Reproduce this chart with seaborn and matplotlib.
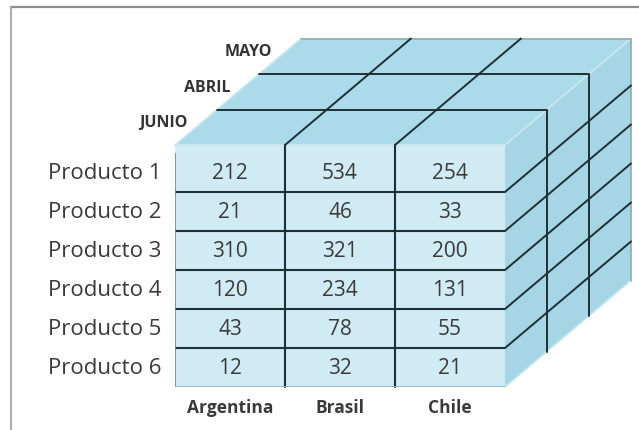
import numpy as np
import pandas as pd
import matplotlib
matplotlib.use("Agg")
import matplotlib.pyplot as plt
from matplotlib.colors import ListedColormap
from matplotlib.patches import Polygon
import seaborn as sns

# ---- data ----
productos = ["Producto 1", "Producto 2", "Producto 3", "Producto 4", "Producto 5", "Producto 6"]
paises = ["Argentina", "Brasil", "Chile"]
meses = ["JUNIO", "ABRIL", "MAYO"]          # front slice to back slice
argentina = [212, 21, 310, 120, 43, 12]
brasil = [534, 46, 321, 234, 78, 32]
chile = [254, 33, 200, 131, 55, 21]

df = pd.DataFrame({"Argentina": argentina, "Brasil": brasil, "Chile": chile},
                  index=productos)[paises]

# ---- style ----
W, H = 639, 431
sns.set_theme(style="white")
plt.rcParams['font.family'] = ['Open Sans', 'DejaVu Sans']

FRONT = "#d0ebf4"
TOP = "#abdbea"
SIDE = "#a6d6e5"
DARK = "#1f2f36"
LIGHT = "#cbe8f1"
EDGE = "#8fa9b1"
TXT = "#3a3a3a"

fig = plt.figure(figsize=(W / 100, H / 100), dpi=100)
fig.patch.set_facecolor("white")

# background axes in pixel coordinates for the cube's top / side faces
bg = fig.add_axes([0, 0, 1, 1])
bg.set_xlim(0, W)
bg.set_ylim(H, 0)
bg.axis("off")

# frame lines
bg.plot([10, W], [8, 8], color="#8c8c8c", lw=1.6, solid_capstyle="butt")
bg.plot([11, 11], [8, H], color="#b0b0b0", lw=1.6, solid_capstyle="butt")

# cube geometry
X0, X1 = 175, 505      # front face left / right
YT, YB = 146, 388      # front face top / bottom
YR = 154               # top of first table row
DX, DY = 42.0, -35.5   # depth offset per slice
nz = len(meses)
nr, nc = len(productos), len(paises)
DXT, DYT = nz * DX, nz * DY

# faces
bg.add_patch(Polygon([(X0, YT), (X1, YT), (X1 + DXT, YT + DYT), (X0 + DXT, YT + DYT)],
                     closed=True, facecolor=TOP, edgecolor="none"))
bg.add_patch(Polygon([(X1, YT), (X1, YB), (X1 + DXT, YB + DYT), (X1 + DXT, YT + DYT)],
                     closed=True, facecolor=SIDE, edgecolor="none"))
bg.add_patch(Polygon([(X0, YT), (X1, YT), (X1, YB), (X0, YB)],
                     closed=True, facecolor=FRONT, edgecolor="none"))

# light outer edges
bg.plot([X0, X0 + DXT], [YT, YT + DYT], color=LIGHT, lw=1.2)
bg.plot([X1, X1 + DXT], [YT, YT + DYT], color=LIGHT, lw=1.2)
bg.plot([X1, X1 + DXT], [YB, YB + DYT], color=LIGHT, lw=1.2)
bg.plot([X0 + DXT, X1 + DXT], [YT + DYT, YT + DYT], color=EDGE, lw=1.2)
bg.plot([X1 + DXT, X1 + DXT], [YT + DYT, YB + DYT], color=EDGE, lw=1.2)
bg.plot([X0, X1], [YT, YT], color=LIGHT, lw=1.2)

# slice boundaries (front edges of deeper slices)
for k in range(1, nz):
    bg.plot([X0 + k * DX, X1 + k * DX, X1 + k * DX],
            [YT + k * DY, YT + k * DY, YB + k * DY], color=DARK, lw=1.4)

# column lines on top face
cw = (X1 - X0) / nc
for j in range(1, nc):
    x = X0 + j * cw
    bg.plot([x, x + DXT], [YT, YT + DYT], color=DARK, lw=1.4)

# row lines on side face
rh = (YB - YR) / nr
for i in range(1, nr):
    y = YR + i * rh
    bg.plot([X1, X1 + DXT], [y, y + DYT], color=DARK, lw=1.4)

# month labels along the left top edge
for k, m in enumerate(meses):
    mx = X0 + (k + 0.5) * DX
    my = YT + (k + 0.5) * DY
    bg.text(mx - 8, my - 5, m, ha="right", va="center", fontsize=11.5,
            fontweight="bold", color="#333333")

# ---- front face: seaborn heatmap ----
hm = fig.add_axes([X0 / W, 1 - YB / H, (X1 - X0) / W, (YB - YR) / H])
sns.heatmap(df, ax=hm, cmap=ListedColormap([FRONT]), cbar=False,
            annot=True, fmt="d", linewidths=0,
            annot_kws=dict(fontsize=15, color=TXT))
hm.set_xlabel("")
hm.set_ylabel("")
for i in range(1, nr):
    hm.axhline(i, color=DARK, lw=1.5)
ext = (YB - YT) / (YB - YR)
for j in range(1, nc):
    hm.axvline(j, ymin=0, ymax=ext, color=DARK, lw=1.5, clip_on=False)
hm.axvline(0, color="#6f8790", lw=1.2)
hm.axhline(nr, color="#8fb0ba", lw=1.2)

hm.tick_params(axis="y", length=0, pad=10, labelsize=16, labelcolor=TXT, rotation=0)
hm.tick_params(axis="x", length=0, pad=8, labelsize=12.5, labelcolor=TXT, rotation=0)
for t in hm.get_xticklabels():
    t.set_fontweight("bold")
for s in hm.spines.values():
    s.set_visible(False)

fig.savefig("out.png", dpi=100, facecolor="white")
